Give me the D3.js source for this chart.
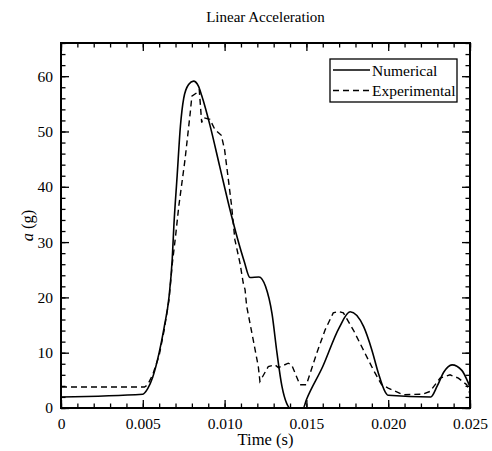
<!DOCTYPE html>
<html>
<head>
<meta charset="utf-8">
<script src="https://cdn.jsdelivr.net/npm/d3@7"></script>
<style>
  body { margin: 0; background: #fff; }
  svg text { font-family: "Liberation Serif", "DejaVu Serif", serif; fill: #000; }
</style>
</head>
<body>
<svg id="chart" width="492" height="451"></svg>
<script>
'use strict';

// Numerical series (time s, acceleration g)
var numTime = [0, 0.005, 0.0053, 0.0056, 0.006, 0.0063, 0.0066, 0.0068, 0.0069, 0.0071, 0.0073, 0.0075,
  0.0078, 0.0081, 0.0084, 0.0086, 0.0091, 0.0097, 0.0103, 0.0108, 0.0112, 0.01155, 0.0121, 0.0125,
  0.0129, 0.0132, 0.0135, 0.0138, 0.0140, 0.0148, 0.0150, 0.0160, 0.0170, 0.01767, 0.0185, 0.0190,
  0.0194, 0.0198, 0.0200, 0.0226, 0.0230, 0.0234, 0.0239, 0.0245, 0.0249, 0.025];
var numAcc = [2.0, 2.5, 3.5, 5.5, 10, 14.5, 20, 27, 33, 42, 51, 56,
  58.5, 59.1, 58.2, 56.5, 51.2, 43.7, 36.2, 30.5, 26.5, 23.6, 23.7, 22,
  17, 10, 4, 0.8, 0, 0, 1.5, 7.5, 14.5, 17.4, 14.7, 10.5,
  6.3, 3.0, 2.3, 2.0, 4, 6.5, 7.8, 6.8, 4.5, 3.8];

// Experimental series
var expTime = [0, 0.0051, 0.0053, 0.0056, 0.006, 0.0063, 0.0066, 0.0068, 0.007, 0.0072, 0.00758, 0.0079,
  0.008, 0.0083, 0.00845, 0.0086, 0.0087, 0.0091, 0.0094, 0.0098, 0.01, 0.01023, 0.01043, 0.01063,
  0.01094, 0.01114, 0.01125, 0.01135, 0.01175, 0.01206, 0.01216, 0.01267, 0.01308, 0.01329, 0.01389, 0.0141,
  0.0146, 0.015, 0.01563, 0.01614, 0.01664, 0.01695, 0.01726, 0.01787, 0.01848, 0.01909, 0.0196, 0.02,
  0.0209, 0.0221, 0.02256, 0.02317, 0.02378, 0.02429, 0.0248, 0.025];
var expAcc = [3.8, 3.8, 4.2, 6, 9.5, 14, 19.5, 26, 31, 36.5, 44.9, 53.4,
  56.4, 57, 57.6, 51.6, 52.5, 52.2, 50.4, 49.3, 46.7, 41.3, 36.5, 30.4,
  26.2, 22.6, 21.4, 18.4, 12.3, 7.5, 4.8, 7.5, 7.8, 7.3, 8.1, 7.8,
  4.2, 4.2, 9.9, 14.1, 17.2, 17.45, 17.2, 14.1, 10.5, 6.9, 4.2, 3.6,
  2.4, 2.5, 3.0, 5.4, 6.0, 5.4, 4.2, 2.5];

var xMajor = [0, 0.005, 0.010, 0.015, 0.020, 0.025];
var xLabels = ["0", "0.005", "0.010", "0.015", "0.020", "0.025"];
var yMajor = [0, 10, 20, 30, 40, 50, 60];
var seriesNames = ["Numerical", "Experimental"];

var pL = 61, pR = 470, pT = 43, pB = 408;
var svg = d3.select("#chart");

var x = d3.scaleLinear().domain([0, 0.025]).range([pL, pR]);
var y = d3.scaleLinear().domain([0, 66]).range([pB, pT]);

var xMinor = d3.range(0, 0.02501, 0.001);
var yMinor = d3.range(0, 67, 2);

svg.append("defs").append("clipPath").attr("id", "clip")
  .append("rect").attr("x", pL).attr("y", pT).attr("width", pR - pL).attr("height", pB - pT);

// curves
var numData = numTime.map(function(t, i) { return [t, numAcc[i]]; });
var expData = expTime.map(function(t, i) { return [t, expAcc[i]]; });
var line = d3.line().x(function(d) { return x(d[0]); }).y(function(d) { return y(d[1]); });

svg.append("path").datum(expData)
  .attr("clip-path", "url(#clip)")
  .attr("d", line.curve(d3.curveLinear))
  .attr("fill", "none").attr("stroke", "#000").attr("stroke-width", 1.4)
  .attr("stroke-dasharray", "6,4");
svg.append("path").datum(numData)
  .attr("clip-path", "url(#clip)")
  .attr("d", line.curve(d3.curveMonotoneX))
  .attr("fill", "none").attr("stroke", "#000").attr("stroke-width", 1.6);

// axes, ticks inward on all four sides
function tidy(g) {
  g.select(".domain").remove();
  g.selectAll(".tick line").attr("stroke", "#000").attr("stroke-width", 1.3);
}
var fmt = function(d) { return xLabels[xMajor.indexOf(d)]; };

svg.append("g").attr("transform", "translate(0," + pB + ")")
  .call(d3.axisBottom(x).tickValues(xMajor).tickSize(-8).tickPadding(10).tickFormat(fmt))
  .call(tidy).selectAll("text").style("font-size", "15.5px");
svg.append("g").attr("transform", "translate(0," + pB + ")")
  .call(d3.axisBottom(x).tickValues(xMinor).tickSize(-4.5).tickFormat("")).call(tidy);
svg.append("g").attr("transform", "translate(0," + pT + ")")
  .call(d3.axisTop(x).tickValues(xMajor).tickSize(-8).tickFormat("")).call(tidy);
svg.append("g").attr("transform", "translate(0," + pT + ")")
  .call(d3.axisTop(x).tickValues(xMinor).tickSize(-4.5).tickFormat("")).call(tidy);

svg.append("g").attr("transform", "translate(" + pL + ",0)")
  .call(d3.axisLeft(y).tickValues(yMajor).tickSize(-8).tickPadding(8).tickFormat(d3.format("d")))
  .call(tidy).selectAll("text").style("font-size", "15.5px");
svg.append("g").attr("transform", "translate(" + pL + ",0)")
  .call(d3.axisLeft(y).tickValues(yMinor).tickSize(-4.5).tickFormat("")).call(tidy);
svg.append("g").attr("transform", "translate(" + pR + ",0)")
  .call(d3.axisRight(y).tickValues(yMajor).tickSize(-8).tickFormat("")).call(tidy);
svg.append("g").attr("transform", "translate(" + pR + ",0)")
  .call(d3.axisRight(y).tickValues(yMinor).tickSize(-4.5).tickFormat("")).call(tidy);

// frame
svg.append("rect").attr("x", pL).attr("y", pT).attr("width", pR - pL).attr("height", pB - pT)
  .attr("fill", "none").attr("stroke", "#000").attr("stroke-width", 2);

// titles
svg.append("text").attr("x", (pL + pR) / 2).attr("y", 22).attr("text-anchor", "middle")
  .style("font-size", "15px").text("Linear Acceleration");
svg.append("text").attr("x", (pL + pR) / 2).attr("y", 445).attr("text-anchor", "middle")
  .style("font-size", "16.5px").text("Time (s)");
var yl = svg.append("text").attr("transform", "translate(33," + ((pT + pB) / 2) + ") rotate(-90)")
  .attr("text-anchor", "middle").style("font-size", "16.5px");
yl.append("tspan").style("font-style", "italic").text("a");
yl.append("tspan").text(" (g)");

// legend
var lg = svg.append("g");
lg.append("rect").attr("x", 330).attr("y", 59).attr("width", 127).attr("height", 43)
  .attr("fill", "#fff").attr("stroke", "#000").attr("stroke-width", 1.3);
seriesNames.forEach(function(name, i) {
  var ly = 70 + i * 20.5;
  lg.append("line").attr("x1", 333).attr("x2", 370).attr("y1", ly).attr("y2", ly)
    .attr("stroke", "#000").attr("stroke-width", 1.5)
    .attr("stroke-dasharray", i === 1 ? "6,4" : null);
  lg.append("text").attr("x", 372).attr("y", ly + 5.5).style("font-size", "15.5px").text(name);
});
</script>
</body>
</html>
